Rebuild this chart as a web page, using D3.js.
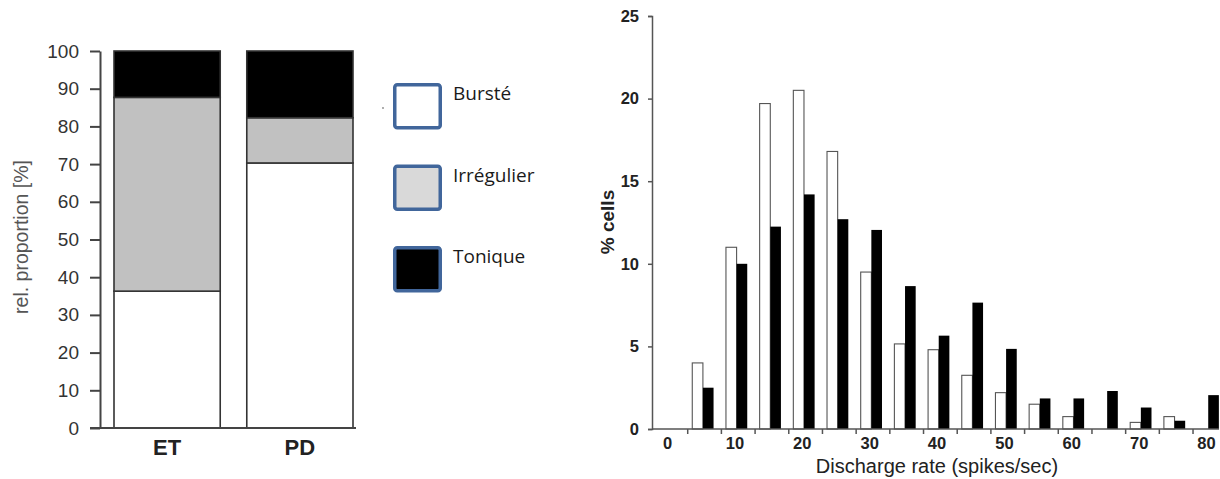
<!DOCTYPE html>
<html>
<head>
<meta charset="utf-8">
<script src="https://cdn.jsdelivr.net/npm/d3@7"></script>
<style>
  html, body { margin: 0; padding: 0; background: #fff; }
  svg { display: block; }
</style>
</head>
<body>
<svg id="chart" width="1220" height="479"></svg>
<script>
// ---------- Data: left stacked chart ----------
const groups = ["ET", "PD"];
const burste = [36.3, 70.3];
const irregulier = [51.4, 12.0];
const tonique = [12.3, 17.7];
const leftTicks = [0, 10, 20, 30, 40, 50, 60, 70, 80, 90, 100];
const legendLabels = ["Bursté", "Irrégulier", "Tonique"];

// ---------- Data: right histogram ----------
const bins = [5, 10, 15, 20, 25, 30, 35, 40, 45, 50, 55, 60, 65, 70, 75, 80];
const whiteSeries = [4.0, 11.0, 19.7, 20.5, 16.8, 9.5, 5.15, 4.8, 3.25, 2.2, 1.5, 0.75, 0, 0.4, 0.75, 0];
const blackSeries = [2.5, 10.0, 12.25, 14.2, 12.7, 12.05, 8.65, 5.65, 7.65, 4.85, 1.85, 1.85, 2.3, 1.3, 0.5, 2.05];
const rightYTicks = [0, 5, 10, 15, 20, 25];
const rightXLabels = [0, 10, 20, 30, 40, 50, 60, 70, 80];
const rightXTicks = [3, 8, 13, 18, 23, 28, 33, 38, 43, 48, 53, 58, 63, 68, 73, 78];

const svg = d3.select("#chart");
const FONT = "'Liberation Sans', Arial, sans-serif";

// ================= LEFT CHART =================
const yL = d3.scaleLinear().domain([0, 100]).range([428, 51]);
const xL = d3.scaleBand().domain(groups).range([114, 353]).paddingInner(0.2).paddingOuter(0);

const stackData = groups.map((g, i) => ({ g, b: burste[i], r: irregulier[i], t: tonique[i] }));
const stacked = d3.stack().keys(["b", "r", "t"])(stackData);
const fills = { b: "#ffffff", r: "#c1c1c1", t: "#000000" };

const left = svg.append("g");
stacked.forEach(layer => {
  left.append("g").selectAll("rect").data(layer).join("rect")
    .attr("x", d => xL(d.data.g))
    .attr("width", xL.bandwidth())
    .attr("y", d => yL(d[1]))
    .attr("height", d => yL(d[0]) - yL(d[1]))
    .attr("fill", fills[layer.key])
    .attr("stroke", "#333")
    .attr("stroke-width", 1.6);
});

const yAxisL = left.append("g").attr("transform", "translate(100,0)")
  .call(d3.axisLeft(yL).tickValues(leftTicks).tickSize(10).tickSizeOuter(0).tickPadding(11));
yAxisL.select(".domain").attr("stroke", "#444").attr("stroke-width", 2);
yAxisL.selectAll(".tick line").attr("stroke", "#444").attr("stroke-width", 2);
yAxisL.selectAll(".tick text").attr("font-family", FONT).attr("font-size", 19).attr("fill", "#333");

// baseline
left.append("line").attr("x1", 90).attr("x2", 356).attr("y1", yL(0)).attr("y2", yL(0))
  .attr("stroke", "#444").attr("stroke-width", 2);

const xAxisL = left.append("g").attr("transform", `translate(0,${yL(0)})`)
  .call(d3.axisBottom(xL).tickSize(0).tickPadding(11));
xAxisL.select(".domain").remove();
xAxisL.selectAll(".tick text").attr("font-family", FONT).attr("font-size", 22)
  .attr("font-weight", "bold").attr("fill", "#222");

left.append("text")
  .attr("transform", "translate(23,237) rotate(-90)")
  .attr("text-anchor", "middle").attr("dominant-baseline", "middle")
  .attr("font-family", FONT).attr("font-size", 19.5).attr("fill", "#555")
  .text("rel. proportion [%]");

// ================= LEGEND =================
const legendFills = ["#ffffff", "#d9d9d9", "#000000"];
const yLeg = d3.scalePoint().domain(legendLabels).range([83, 246]);
const legend = svg.append("g");
legend.selectAll("rect").data(legendLabels).join("rect")
  .attr("x", 394.75).attr("y", d => yLeg(d) + 1.75)
  .attr("width", 45.5).attr("height", 43)
  .attr("rx", 2.5)
  .attr("fill", (d, i) => legendFills[i])
  .attr("stroke", "#41669b").attr("stroke-width", 3.5);
legend.selectAll("text").data(legendLabels).join("text")
  .attr("x", 453).attr("y", d => yLeg(d) + 17)
  .attr("font-family", "'Open Sans', 'Noto Sans', sans-serif").attr("font-size", 19)
  .attr("fill", "#1a1a1a")
  .text(d => d);
legend.append("circle").attr("cx", 383).attr("cy", 108).attr("r", 0.9).attr("fill", "#888");

// ================= RIGHT CHART =================
const yR = d3.scaleLinear().domain([0, 25]).range([429, 16]);
const xR = d3.scaleLinear().domain([0, 80]).range([667, 1206]);
const barW = 1.58; // in x units
const split = 0.33;

const right = svg.append("g");
right.append("g").selectAll("rect").data(bins.map((b, i) => ({ b, v: whiteSeries[i] })).filter(d => d.v > 0))
  .join("rect")
  .attr("x", d => xR(d.b + split - barW))
  .attr("width", d => xR(d.b + split) - xR(d.b + split - barW))
  .attr("y", d => yR(d.v))
  .attr("height", d => yR(0) - yR(d.v))
  .attr("fill", "#fff").attr("stroke", "#555").attr("stroke-width", 1.1);

right.append("g").selectAll("rect").data(bins.map((b, i) => ({ b, v: blackSeries[i] })))
  .join("rect")
  .attr("x", d => xR(d.b + split))
  .attr("width", d => xR(d.b + split + barW) - xR(d.b + split))
  .attr("y", d => yR(d.v))
  .attr("height", d => yR(0) - yR(d.v))
  .attr("fill", "#000");

const yAxisR = right.append("g").attr("transform", "translate(652,0)")
  .call(d3.axisLeft(yR).tickValues(rightYTicks).tickSize(4).tickSizeOuter(4).tickPadding(9));
yAxisR.select(".domain").attr("stroke", "#555").attr("stroke-width", 1.5);
yAxisR.selectAll(".tick line").attr("stroke", "#555").attr("stroke-width", 1.5);
yAxisR.selectAll(".tick text").attr("font-family", FONT).attr("font-size", 16.5)
  .attr("font-weight", "bold").attr("fill", "#222");

// x baseline and ticks
right.append("line").attr("x1", 652).attr("x2", 1219).attr("y1", yR(0)).attr("y2", yR(0))
  .attr("stroke", "#555").attr("stroke-width", 1.5);
const xTicksR = right.append("g").attr("transform", `translate(0,${yR(0)})`)
  .call(d3.axisBottom(xR).tickValues(rightXTicks).tickSize(5).tickFormat(""));
xTicksR.select(".domain").remove();
xTicksR.selectAll(".tick line").attr("stroke", "#555").attr("stroke-width", 1.5);

const xLabelsR = right.append("g").attr("transform", `translate(0,${yR(0)})`)
  .call(d3.axisBottom(xR).tickValues(rightXLabels).tickSize(0).tickPadding(8.5));
xLabelsR.select(".domain").remove();
xLabelsR.selectAll(".tick text").attr("font-family", FONT).attr("font-size", 16.5)
  .attr("font-weight", "bold").attr("fill", "#222");

right.append("text")
  .attr("x", 937).attr("y", 473)
  .attr("text-anchor", "middle")
  .attr("font-family", FONT).attr("font-size", 20).attr("fill", "#222")
  .text("Discharge rate (spikes/sec)");

right.append("text")
  .attr("transform", "translate(608.5,222) rotate(-90)")
  .attr("text-anchor", "middle").attr("dominant-baseline", "middle")
  .attr("font-family", FONT).attr("font-size", 19).attr("font-weight", "bold").attr("fill", "#222")
  .text("% cells");
</script>
</body>
</html>
